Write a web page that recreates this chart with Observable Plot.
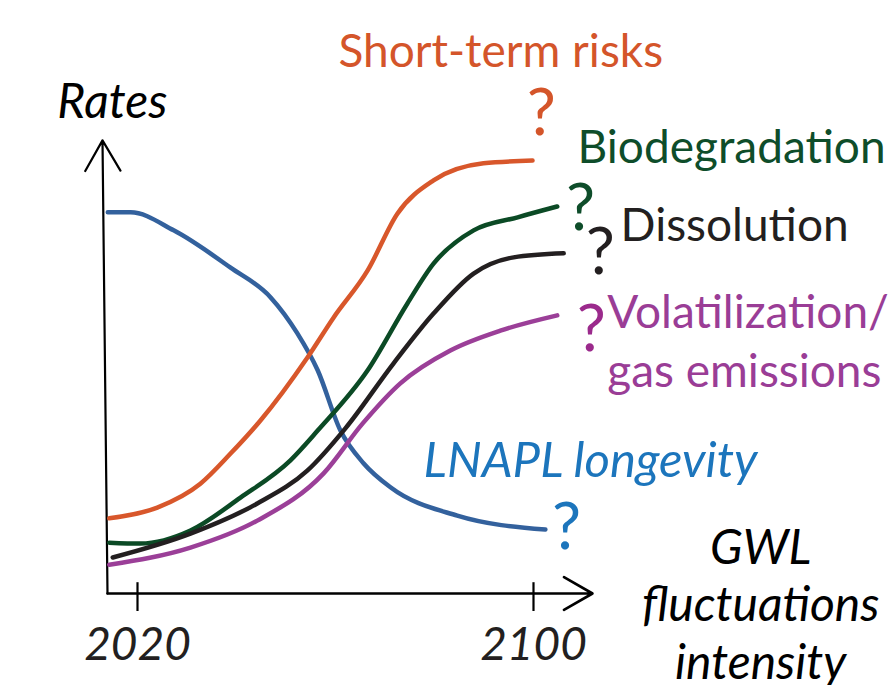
<!DOCTYPE html>
<html><head><meta charset="utf-8">
<script src="https://cdn.jsdelivr.net/npm/d3@7"></script>
<script src="https://cdn.jsdelivr.net/npm/@observablehq/plot@0.6"></script>
<style>body{margin:0;background:#fff;overflow:hidden}</style>
</head><body><div id="chart"></div>
<script>
// ---- data (conceptual rates, arbitrary units 0–100) ----
const seriesNames = ["LNAPL longevity", "Short-term risks", "Biodegradation", "Dissolution", "Volatilization/gas emissions"];
const seriesColors = ["#33619d", "#d8572b", "#0b4a25", "#231f20", "#9b3f98"];

const lnaplYears = [2014, 2018.6, 2027.3, 2038.8, 2046.9, 2052.3, 2056.4, 2061.0, 2065.7, 2071.1, 2084.6, 2102.4];
const lnaplRates = [84.7, 84.7, 80.7, 72.4, 65.8, 57.8, 49.6, 36.2, 28.9, 23.6, 17.3, 14.2];

const riskYears = [2014.3, 2024.0, 2032.7, 2038.8, 2044.8, 2054.3, 2059.6, 2066.5, 2072.5, 2079.8, 2089.9, 2099.8];
const riskRates = [16.7, 19.1, 24.4, 31.1, 38.4, 52.4, 61.3, 71.8, 84.4, 91.8, 95.6, 96.2];

const bioYears = [2014.3, 2020.6, 2030.7, 2040.8, 2050.9, 2056.4, 2066.5, 2074.5, 2079.8, 2087.9, 2096.8, 2104.8];
const bioRates = [11.3, 11.1, 14.0, 21.3, 29.6, 36.2, 49.6, 64.4, 73.3, 80.7, 83.6, 86.0];

const dissYears = [2015.0, 2030.7, 2044.2, 2054.3, 2062.0, 2071.7, 2079.8, 2087.9, 2096.0, 2106.1];
const dissRates = [8.0, 13.3, 20.0, 27.3, 36.7, 51.1, 62.2, 71.1, 74.7, 75.6];

const volYears = [2014.3, 2030.7, 2044.2, 2057.6, 2065.5, 2073.1, 2083.2, 2093.3, 2104.8];
const volRates = [6.4, 10.2, 16.2, 26.7, 37.8, 46.7, 54.0, 58.4, 61.8];

const tickYears = [2020, 2100];
const tickLabels = ["2020", "2100"];

// annotation texts (anchored in data coordinates)
const seriesLabelText = ["Short-term risks", "Biodegradation", "Dissolution", "Volatilization/", "gas emissions"];
const seriesLabelColor = ["#d4552a", "#0e4d2a", "#231f20", "#9a3d96", "#9a3d96"];
const seriesLabelYear = [2060.6, 2108.9, 2117.6, 2114.9, 2114.9];
const seriesLabelRate = [116.9, 95.6, 78.4, 58.9, 45.8];

const qColor = ["#d4552a", "#0e4d2a", "#231f20", "#9b2a8c", "#1c75bc"];
const qYear = [2101.6, 2109.5, 2113.5, 2111.7, 2106.7];
const qRate = [101.8, 80.7, 71.1, 54.0, 10.0];

const axisYLabel = "Rates";
const axisXLabel = "GWL\nfluctuations\nintensity";
const lnaplLabel = "LNAPL longevity";

// ---- build tables ----
const seriesYears = [lnaplYears, riskYears, bioYears, dissYears, volYears];
const seriesRates = [lnaplRates, riskRates, bioRates, dissRates, volRates];
const rows = seriesNames.flatMap((s, k) => seriesYears[k].map((yr, i) => ({series: s, year: yr, rate: seriesRates[k][i]})));
const labels = seriesLabelText.map((t, i) => ({text: t, fill: seriesLabelColor[i], year: seriesLabelYear[i], rate: seriesLabelRate[i]}));
const qmarks = qColor.map((c, i) => ({fill: c, year: qYear[i], rate: qRate[i]}));

const chart = Plot.plot({
  width: 891,
  height: 685,
  marginTop: 0, marginRight: 0, marginLeft: 0, marginBottom: 92,
  style: {fontFamily: "Lato, 'Open Sans', sans-serif", background: "#fff", overflow: "hidden"},
  x: {domain: [2013.94, 2111.92], range: [107, 592]},
  y: {domain: [0, 100], range: [593, 143], axis: null},
  color: {domain: seriesNames, range: seriesColors},
  marks: [
    // axes
    Plot.arrow([0], {x1: 2013.94, y1: 0, x2: 2012.93, y2: 100.7, stroke: "#000", strokeWidth: 2.2, headLength: 24}),
    Plot.arrow([0], {x1: 2013.94, y1: 0, x2: 2111.92, y2: 0, stroke: "#000", strokeWidth: 2.6, headLength: 19}),
    Plot.ruleX(tickYears, {x: d => d, y1: -4, y2: 2.4, stroke: "#000", strokeWidth: 2.2}),
    Plot.axisX({ticks: tickYears, tickSize: 0, tickPadding: 34, fontSize: 46, fontStyle: "italic", fill: "#231f20", tickFormat: (d, i) => tickLabels[i], label: null}),
    // curves
    Plot.line(rows, {x: "year", y: "rate", z: "series", stroke: "series", strokeWidth: 4.5, curve: "monotone-x"}),
    // labels
    Plot.text(labels, {x: "year", y: "rate", text: "text", fill: "fill", fontSize: 46, textAnchor: "start", lineAnchor: "bottom"}),
    Plot.text([axisYLabel], {x: 2003.8, y: 105.6, text: d => d, fill: "#000", fontSize: 48, fontStyle: "italic", textAnchor: "start", lineAnchor: "bottom"}),
    Plot.text([lnaplLabel], {x: 2077.8, y: 25.8, text: d => d, fill: "#1c75bc", fontSize: 49, fontStyle: "italic", textAnchor: "start", lineAnchor: "bottom"}),
    Plot.text([axisXLabel], {x: 2145.9, y: -18.9, text: d => d, fill: "#000", fontSize: 48, fontStyle: "italic", textAnchor: "middle", lineAnchor: "bottom", lineHeight: 1.19}),
    Plot.text(qmarks, {x: "year", y: "rate", text: () => "?", fill: "fill", fontSize: 65, textAnchor: "middle", lineAnchor: "bottom"})
  ]
});
document.getElementById("chart").append(chart);
</script>
</body></html>
